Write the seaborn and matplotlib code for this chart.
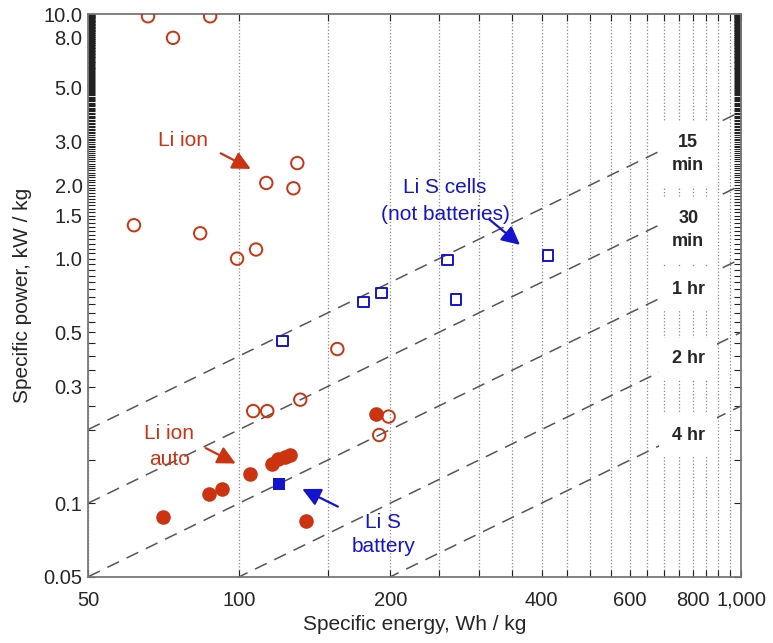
import numpy as np
import pandas as pd
import matplotlib
matplotlib.use("Agg")
import matplotlib.pyplot as plt
import seaborn as sns

# Li ion cells (open red circles)
liion_energy = [65.8, 87.5, 73.8, 130.5, 113.2, 128.2, 61.7, 83.6, 99.0, 108.0,
                156.8, 106.6, 113.7, 132.3, 198.4, 190.0]
liion_power = [9.8, 9.8, 8.0, 2.46, 2.04, 1.94, 1.37, 1.27, 1.0, 1.09,
               0.427, 0.238, 0.238, 0.265, 0.226, 0.19]

# Li ion auto batteries (filled red circles)
auto_energy = [187.0, 70.5, 87.0, 92.5, 105.0, 116.4, 119.6, 123.5, 126.4, 136.0]
auto_power = [0.232, 0.0875, 0.109, 0.114, 0.132, 0.145, 0.151, 0.155, 0.158, 0.0845]

# Li S cells (open blue squares) and Li S battery (filled blue square)
lis_energy = [121.9, 176.7, 192.0, 260.0, 270.0, 412.0]
lis_power = [0.46, 0.665, 0.725, 0.99, 0.68, 1.03]
lis_batt_energy = [120.0]
lis_batt_power = [0.12]

# discharge time lines (hours) and their labels
hours = [0.25, 0.5, 1, 2, 4]
hour_labels = ["15\nmin", "30\nmin", "1 hr", "2 hr", "4 hr"]
hour_label_y = [2.68, 1.31, 0.751, 0.389, 0.19]

RED = "#cc3311"
BLUE = "#1414d0"

sns.set_style("white")
plt.rcParams["font.family"] = ["Liberation Sans", "DejaVu Sans"]

fig = plt.figure(figsize=(7.73, 6.43), dpi=100)
ax = fig.add_axes([0.114, 0.103, 0.845, 0.875])

# constant discharge-time lines: P [kW/kg] = E [Wh/kg] / (1000 * t)
e_line = np.geomspace(50, 1000, 200)
for t in hours:
    line = pd.DataFrame({"E": e_line, "P": e_line / (1000 * t)})
    sns.lineplot(data=line, x="E", y="P", ax=ax, color="#555555", lw=1.1,
                 linestyle=(0, (8.5, 5.5)), zorder=2)

sns.scatterplot(x=liion_energy, y=liion_power, ax=ax, marker="o", s=80,
                facecolor="none", edgecolor=RED, linewidth=1.4, zorder=4)
sns.scatterplot(x=auto_energy, y=auto_power, ax=ax, marker="o", s=110,
                color=RED, edgecolor=RED, linewidth=0, zorder=4)
sns.scatterplot(x=lis_energy, y=lis_power, ax=ax, marker="s", s=55,
                facecolor="none", edgecolor=BLUE, linewidth=1.4, zorder=4)
sns.scatterplot(x=lis_batt_energy, y=lis_batt_power, ax=ax, marker="s", s=85,
                color=BLUE, edgecolor=BLUE, linewidth=0, zorder=4)

ax.set_xscale("log")
ax.set_yscale("log")
ax.set_xlim(50, 1000)
ax.set_ylim(0.05, 10)

xt = [50, 100, 200, 400, 600, 800, 1000]
ax.set_xticks(xt)
ax.set_xticklabels(["50", "100", "200", "400", "600", "800", "1,000"])
ax.set_xticks(np.arange(50, 1001, 50), minor=True)
ax.xaxis.set_minor_formatter(matplotlib.ticker.NullFormatter())

yt = [0.05, 0.1, 0.3, 0.5, 1.0, 1.5, 2.0, 3.0, 5.0, 8.0, 10.0]
ax.set_yticks(yt)
ax.set_yticklabels(["0.05", "0.1", "0.3", "0.5", "1.0", "1.5", "2.0", "3.0",
                    "5.0", "8.0", "10.0"])
ax.set_yticks(np.arange(0.05, 10.001, 0.05), minor=True)
ax.yaxis.set_minor_formatter(matplotlib.ticker.NullFormatter())

ax.tick_params(which="both", direction="in", top=True, right=True,
               bottom=True, left=True, length=5, width=0.8, color="#222222",
               labelsize=14.5)
ax.tick_params(axis="x", which="both", pad=10)
ax.tick_params(axis="y", which="both", pad=4)
ax.grid(which="minor", axis="x", color="#888888", linestyle=":", lw=0.9)
ax.grid(which="major", axis="x", color="#888888", linestyle=":", lw=0.9)
for s in ax.spines.values():
    s.set_color("#777777")
    s.set_linewidth(1.3)

ax.set_xlabel("Specific energy, Wh / kg", fontsize=15, labelpad=4)
ax.set_ylabel("Specific power, kW / kg", fontsize=15, labelpad=8)

for lab, yy in zip(hour_labels, hour_label_y):
    ax.text(784, yy, lab, ha="center", va="center", fontsize=13,
            fontweight="bold", linespacing=1.5, zorder=5,
            bbox=dict(boxstyle="square,pad=0.7", fc="white", ec="none"))

arrow_red = dict(arrowstyle="-|>,head_length=1.1,head_width=0.55", color=RED, lw=1.6)
arrow_blue = dict(arrowstyle="-|>,head_length=1.1,head_width=0.55", color=BLUE, lw=1.6)

ax.text(77.4, 3.03, "Li ion", color=RED, fontsize=15, ha="center", va="center")
ax.annotate("", xy=(106.6, 2.30), xytext=(90.8, 2.73), arrowprops=arrow_red)

ax.text(72.6, 0.17, "Li ion\nauto", color=RED, fontsize=15, ha="center",
        va="center", linespacing=1.45)
ax.annotate("", xy=(99.5, 0.1435), xytext=(84.8, 0.17), arrowprops=arrow_red)

ax.text(257, 1.72, "Li S cells\n(not batteries)", color=BLUE, fontsize=15,
        ha="center", va="center", linespacing=1.5)
ax.annotate("", xy=(366, 1.12), xytext=(312, 1.47), arrowprops=arrow_blue)

ax.text(193.5, 0.0743, "Li S\nbattery", color=BLUE, fontsize=15, ha="center",
        va="center", linespacing=1.35)
ax.annotate("", xy=(132, 0.1156), xytext=(159, 0.0957), arrowprops=arrow_blue)

fig.savefig("out.png", dpi=100)
